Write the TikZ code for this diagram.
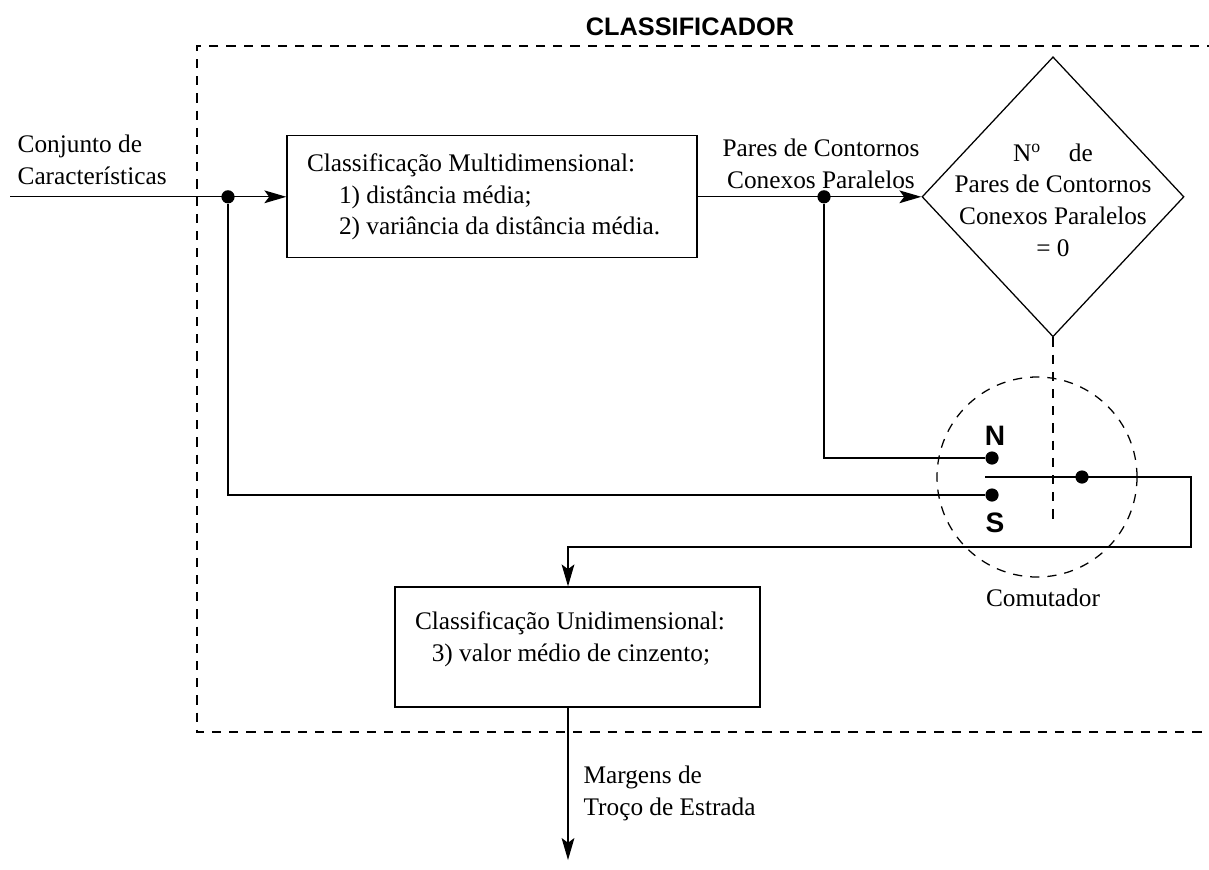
\documentclass[tikz,border=0pt]{standalone}
\usepackage{fontspec}
\setmainfont{Liberation Serif}
\newfontfamily\headfont{Liberation Sans}
\usetikzlibrary{calc,shapes.geometric,arrows.meta}

\begin{document}
\begin{tikzpicture}[line width=0.9pt, font=\fontsize{18}{22.5}\selectfont,
        seta/.style={-{Stealth[length=5.5mm,width=3.2mm,inset=1.2mm]}},
        ponto/.style={circle, fill, inner sep=0pt, minimum size=3.3mm},
        tracejado/.style={dash pattern=on 2.3mm off 2mm},
        bloco/.style={draw, inner sep=0pt},
        rotulo/.style={align=left, inner sep=0pt},
        letra/.style={font=\headfont\bfseries\fontsize{20}{24}\selectfont, inner sep=0pt}]

            \useasboundingbox (0,0) rectangle (30.225,-21.725);

            \draw [tracejado] (30.4,-1.15) -- (4.925,-1.15) -- (4.925,-18.3) -- (30.4,-18.3);
            \node (titulo) at (17.25,-0.675) [letra, font=\headfont\bfseries\fontsize{18}{22}\selectfont] {CLASSIFICADOR};

            \coordinate (in) at (0.25,-4.92);
            \node (A) at (5.7,-4.92) [ponto] {};
            \node (multi) at (12.3,-4.92) [bloco, minimum width=10.25cm, minimum height=3.05cm] {};
            \node (multitxt) at ($(multi.west)+(0.5,0)$) [rotulo, anchor=west]
                {Classificação Multidimensional:\\ \hspace*{8mm}1) distância média;\\ \hspace*{8mm}2) variância da distância média.};
            \node (B) at (20.6,-4.92) [ponto] {};
            \node (zero) at (26.325,-4.92) [diamond, draw, minimum width=6.55cm, minimum height=7cm, inner sep=0pt] {};
            \node (zerotxt) at ($(zero)+(0,-0.08)$) [align=center, inner sep=0pt]
                {N\textsuperscript{o}\hspace{7mm}de\\Pares de Contornos\\Conexos Paralelos\\= 0};

            \node (entrada) at (0.425,-4.0) [rotulo, anchor=west] {Conjunto de\\Características};
            \node (pares) at (20.525,-4.1) [align=center, inner sep=0pt] {Pares de Contornos\\Conexos Paralelos};

            \draw [seta] (in) -- (multi);
            \draw [seta] (multi) -- (zero);

            \node (comut) at (25.925,-11.925) [circle, draw, tracejado, minimum size=5cm, inner sep=0pt] {};
            \node (comuttxt) at ($(comut.south)+(0.15,-0.5)$) {Comutador};
            \coordinate (eixo) at (26.325,-13.05);
            \draw [tracejado] (zero.south) -- (eixo);

            \node (N) at (24.8,-11.45) [ponto] {};
            \node (S) at (24.8,-12.375) [ponto] {};
            \node (C) at (27.05,-11.925) [ponto] {};
            \node (Nl) at ($(N)+(0.075,0.55)$) [letra] {N};
            \node (Sl) at ($(S)+(0.075,-0.7)$) [letra] {S};

            \draw (B) |- (N);
            \draw (A) |- (S);

            \node (uni) at (14.4375,-16.175) [bloco, minimum width=9.125cm, minimum height=3cm] {};
            \node (unitxt) at ($(uni.west)+(0.5,0.2)$) [rotulo, anchor=west]
                {Classificação Unidimensional:\\ \hspace*{4.2mm}3) valor médio de cinzento;};

            \coordinate (braco) at (24.625,-11.925);
            \coordinate (D) at (29.775,-11.925);
            \coordinate (E) at (29.775,-13.675);
            \coordinate (saida) at (14.2,-21.5);
            \draw [seta] (braco) -- (D) -- (E) -| (uni.north -| saida);
            \draw [seta] (uni.south -| saida) -- (saida);

            \node (margens) at (14.575,-19.84) [rotulo, anchor=west] {Margens de\\Troço de Estrada};

        \end{tikzpicture}
\end{document}
